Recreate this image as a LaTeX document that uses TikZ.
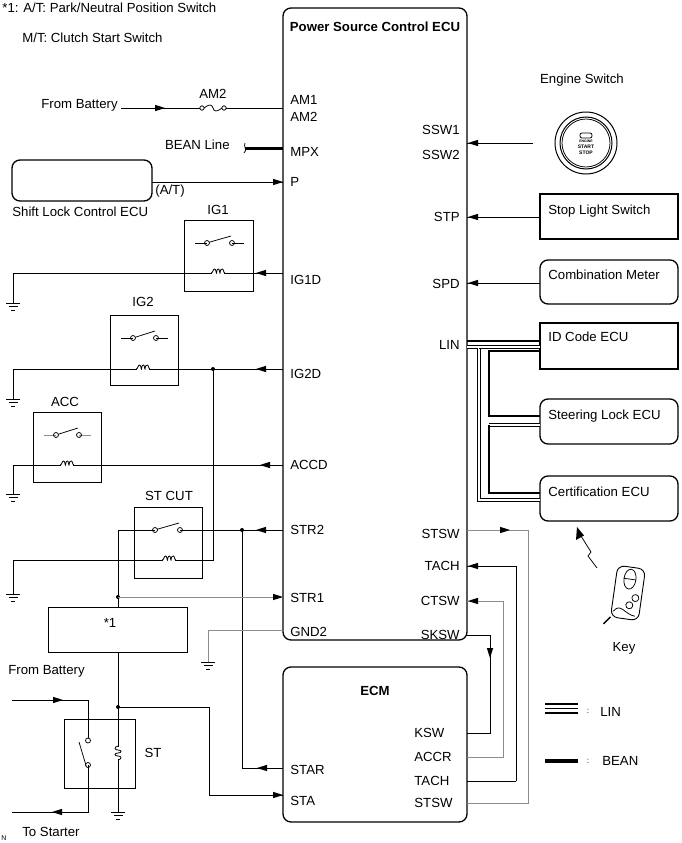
\documentclass[tikz,border=0pt]{standalone}
\usepackage{fontspec}
\setmainfont{Liberation Sans}
\usetikzlibrary{arrows.meta}
\newcommand\tipat[3]{\fill[shift={(#1,#2)},rotate=#3] (0,0)--(-10,3.2)--(-10,-3.2)--cycle;}
\newcommand\gnd[2]{\draw (#1-7,#2)--(#1+7,#2) (#1-4.5,#2+3.5)--(#1+4.5,#2+3.5) (#1-2,#2+7)--(#1+2,#2+7);}
\newcommand\coil[2]{\fill[white] (#1-6,#2-4) rectangle (#1+6,#2+1);
 \draw[line width=0.8pt] (#1-7,#2) .. controls (#1-5,#2) and (#1-5,#2-4) .. (#1-3.5,#2-4) .. controls (#1-2,#2-4) and (#1-2,#2) .. (#1-1.5,#2) .. controls (#1-1,#2-4) and (#1,#2-4) .. (#1+0.5,#2-4) .. controls (#1+1.5,#2-4) and (#1+1.5,#2) .. (#1+2,#2) .. controls (#1+2.5,#2-4) and (#1+3.5,#2-4) .. (#1+4.5,#2-4) .. controls (#1+5.5,#2-4) and (#1+5.5,#2) .. (#1+7,#2);}
\newcommand\sw[4]{% x1 x2 y, line colour
 \draw[#4] (#1-12,#3)--(#1,#3) (#2,#3)--(#2+12,#3);
 \draw (#1,#3) circle (2.5) (#2,#3) circle (2.5);
 \draw (#1+2.4,#3-0.8)--(#2-1,#3-7);}
\tikzset{lbl/.style={font=\fontsize{13.2}{15}\selectfont,inner sep=0pt},
 box/.style={draw,line width=1.3pt},
 rbox/.style={draw,line width=1.3pt,rounded corners=8pt},
 gray/.style={draw=black!45},
 lin/.style={double=white,double distance=1.6pt,line width=1pt,draw=black},
 bean/.style={line width=3pt}}
\begin{document}
\begin{tikzpicture}[x=1pt,y=-1pt,line width=0.75pt]
\useasboundingbox (0,0) rectangle (681,843);
% top notes
\node[lbl,anchor=west] (n1) at (2,8) {*1: A/T: Park/Neutral Position Switch};
\node[lbl,anchor=west] (n2) at (22,38) {M/T: Clutch Start Switch};
% main boxes
\draw[rbox] (283,8) rectangle (467,640);
\node[lbl,font=\fontsize{13.2}{15}\selectfont\bfseries] (psc) at (375,27) {Power Source Control ECU};
\draw[rbox] (283,667) rectangle (467,822);
\node[lbl,font=\fontsize{13.2}{15}\selectfont\bfseries] (ecm) at (375,691) {ECM};
% PSC left labels
\foreach \t/\y in {AM1/100,AM2/117,MPX/152,P/182,IG1D/280,IG2D/374,ACCD/465,STR2/530,STR1/598,GND2/632}
  \node[lbl,anchor=west] at (290,\y) {\t};
\foreach \t/\y in {SSW1/130,SSW2/155,STP/217,SPD/284,LIN/345,STSW/534,TACH/566,CTSW/601,SKSW/635}
  \node[lbl,anchor=east] at (460,\y) {\t};
\foreach \t/\y in {STAR/770,STA/801}
  \node[lbl,anchor=west] at (290,\y) {\t};
\foreach \t/\y in {KSW/733,ACCR/757,TACH/781,STSW/803}
  \node[lbl,anchor=west] at (414,\y) {\t};
% From battery / AM2
\node[lbl,anchor=east] (fb) at (118,105) {From Battery};
\draw (121,108)--(200,108) (226,108)--(283,108);
\tipat{165}{108}{0}
\draw (202,108) circle (2.2) (224,108) circle (2.2);
\draw (204,108) .. controls (209,104) and (212,104) .. (213,108) .. controls (214,112) and (217,112) .. (222,108);
\node[lbl] (am2) at (213,94) {AM2};
% BEAN line
\node[lbl,anchor=east] (bl) at (230,145) {BEAN Line};
\draw[bean] (245,148)--(283,148);
\draw (245,143) .. controls (243,146) and (248,150) .. (244,153);
% shift lock
\draw[rbox] (12,160) rectangle (152,201);
\node[lbl,anchor=west] (sl) at (12,212) {Shift Lock Control ECU};
\draw (152,182)--(283,182); \tipat{283}{182}{0}
\node[lbl,anchor=west] at (155,191) {(A/T)};
% IG1
\draw[box,line width=1pt] (184,220) rectangle (253,291);
\node[lbl] at (218,210) {IG1};
\sw{207}{232}{243}{black}
\draw (13,273)--(283,273) (13,273)--(13,303); \gnd{13}{303}
\coil{218}{273} \tipat{256}{273}{180}
% IG2
\draw[box,line width=1pt] (110,315) rectangle (178,385);
\node[lbl] at (143,302) {IG2};
\sw{133}{156}{338}{black}
\draw (13,369)--(283,369) (13,369)--(13,399); \gnd{13}{399}
\coil{143}{369} \tipat{256}{369}{180}
\fill (213,369) circle (2);
\draw (213,369)--(213,560)--(13,560)--(13,594); \gnd{13}{594}
% ACC
\draw[box,line width=1pt] (33,412) rectangle (101,482);
\node[lbl] at (65,402) {ACC};
\sw{56}{79}{435}{gray}
\draw (13,465)--(283,465) (13,465)--(13,494); \gnd{13}{494}
\coil{67}{465} \tipat{260}{465}{180}
% ST CUT
\draw[box,line width=1pt] (134,507) rectangle (202,578);
\node[lbl] at (169,496) {ST CUT};
\draw (118,530)--(155,530) (180,530)--(283,530);
\draw (155,530) circle (2.5) (180,530) circle (2.5) (157.4,529.2)--(179,523);
\coil{169}{560}
\fill (242,530) circle (2); \tipat{256}{530}{180}
\draw (242,530)--(242,768)--(283,768); \tipat{257}{768}{180}
\draw (118,530)--(118,607);
\fill (118,597) circle (2);
\draw[gray] (118,597)--(283,597); \tipat{283}{597}{0}
% *1
\draw[box,line width=1pt] (48,607) rectangle (187,652);
\node[lbl] at (110,623) {*1};
\draw (118,652)--(118,812); \gnd{118}{812}
\fill (118,707) circle (2);
\draw (118,707)--(209,707)--(209,795)--(283,795); \tipat{283}{795}{0}
% GND2
\draw[gray] (283,630)--(208,630)--(208,662); \gnd{208}{662}
% ST relay
\draw[box,line width=1pt] (64,719) rectangle (135,788);
\node[lbl] at (153,753) {ST};
\node[lbl,anchor=west] at (8,671) {From Battery};
\node[lbl,anchor=west] at (22,832) {To Starter};
\node[font=\fontsize{7}{8}\selectfont,inner sep=0pt] at (4,838) {N};
\draw (12,700)--(88,700)--(88,738) (88,765)--(88,812)--(12,812);
\draw (88,740.5) circle (2.5) (88,765) circle (2.5) (86.5,767)--(79,742);
\tipat{63}{700}{0} \tipat{52}{812}{180}
\fill[white] (115,747) rectangle (121,759);
\draw[line width=0.8pt] (118,746) .. controls (114,747) and (114,750) .. (118,750) .. controls (122,750) and (122,753) .. (118,753) .. controls (114,753) and (114,756) .. (118,756) .. controls (122,756) and (122,759) .. (118,760);
% right side
\node[lbl] (es) at (582,80) {Engine Switch};
\draw[line width=1pt] (586,143) circle (31) (586,143) circle (26);
\draw (586,143) circle (24);
\draw[rounded corners=2pt] (580,133) rectangle (592,138);
\node[font=\fontsize{3.5}{4}\selectfont\bfseries,inner sep=0pt] at (586,141) {ENGINE};
\node[font=\fontsize{5}{5}\selectfont\bfseries,inner sep=0pt] at (586,147) {START};
\node[font=\fontsize{5}{5}\selectfont\bfseries,inner sep=0pt] at (586,153) {STOP};
\draw (533,143)--(467,143); \tipat{468}{143}{180}
\draw[box] (540,194) rectangle (678,239);
\node[lbl,anchor=west] at (548,211) {Stop Light Switch};
\draw (540,217)--(467,217); \tipat{468}{217}{180}
\draw[rbox] (540,260) rectangle (678,304);
\node[lbl,anchor=west] at (548,275) {Combination Meter};
\draw (540,283)--(467,283); \tipat{468}{283}{180}
\draw[box] (540,323) rectangle (678,369);
\node[lbl,anchor=west] at (548,337) {ID Code ECU};
\draw[rbox] (540,399) rectangle (678,444);
\node[lbl,anchor=west] at (548,416) {Steering Lock ECU};
\draw[rbox] (540,476) rectangle (678,521);
\node[lbl,anchor=west] at (548,492) {Certification ECU};
% LIN/BEAN bundle
\draw[bean,line width=2.2pt] (467,341)--(540,341);
\draw[lin] (467,347)--(479,347)--(479,500)--(540,500);
\draw[lin] (479,347)--(540,347);
\draw[bean,line width=2.2pt] (540,351)--(489,351)--(489,416)--(540,416);
\draw[lin] (489,425)--(540,425);
\draw[bean,line width=2.2pt] (489,425)--(489,493)--(540,493);
% Key
\draw (597,568)--(588,556)--(591,552)--(581,536);
\fill (577,527)--(576,540)--(584,535.5)--cycle;
\begin{scope}[shift={(628,593)},rotate=-8]
\draw[rounded corners=7pt,line width=0.9pt] (-14,-26) rectangle (14,26);
\draw (0,-14) ellipse (6 and 10);
\draw (-6,-14)--(6,-14);
\draw (8,4) circle (3.5) (3,12) circle (3.5);
\draw (-12,20) .. controls (-6,10) and (0,22) .. (10,22);
\draw[line width=1.4pt] (-14,26)--(-20,34);
\end{scope}
\node[lbl] (key) at (624,648) {Key};
% ECM connections
\draw[gray] (467,530)--(528,530)--(528,803)--(467,803); \tipat{510}{530}{0}
\draw (516,781)--(467,781) (516,781)--(516,566)--(467,566); \tipat{468}{566}{180}
\draw[gray] (467,757)--(503,757)--(503,601)--(467,601); \tipat{468}{601}{180}
\draw (467,635)--(490,635)--(490,733)--(467,733); \tipat{490}{658}{-90}
% legend
\draw[line width=1.3pt] (545,704)--(578,704) (545,708.5)--(578,708.5) (545,713)--(578,713);
\node[lbl,font=\fontsize{8}{8}\selectfont] at (588,711) {:};
\node[lbl,anchor=west] at (600,712) {LIN};
\draw[bean,line width=4pt] (545,761)--(578,761);
\node[lbl,font=\fontsize{8}{8}\selectfont] at (588,761) {:};
\node[lbl,anchor=west] at (602,761) {BEAN};
\end{tikzpicture}
\end{document}
